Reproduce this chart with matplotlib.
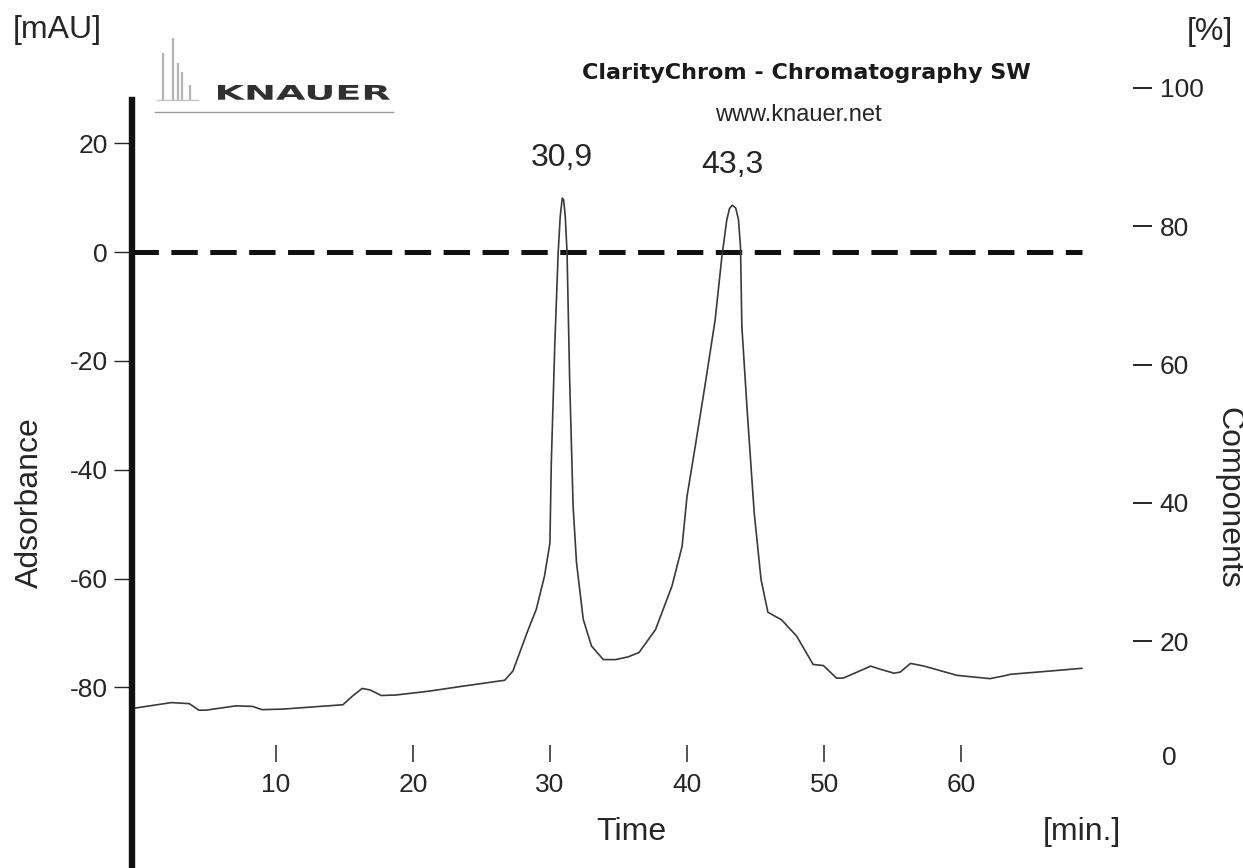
import matplotlib
matplotlib.use("Agg")
import matplotlib.pyplot as plt
from matplotlib.font_manager import FontProperties
from matplotlib.patches import PathPatch
from matplotlib.textpath import TextPath
from matplotlib.transforms import Affine2D

plt.rcParams["font.family"] = ["Liberation Sans", "DejaVu Sans"]
plt.rcParams["axes.unicode_minus"] = False
plt.rcParams["lines.scale_dashes"] = False

W, H, DPI = 1243, 868, 100
INK = "#262626"

# detector trace, time in min / absorbance in mAU
time_min = [-0.5, 2.4, 3.7, 4.4, 4.9, 7.1, 8.3, 9.0, 10.5, 14.9, 15.6, 16.3, 16.9,
            17.7, 18.8, 21.2, 23.6, 26.7, 27.3, 27.8, 28.4, 29.0, 29.6, 30.0, 30.1,
            30.35, 30.6, 30.75, 30.9, 31.0, 31.12, 31.25, 31.44, 31.69, 31.94,
            32.43, 33.03, 33.89, 34.8, 35.7, 36.5, 37.7, 38.9, 39.64, 40.0, 40.6,
            41.3, 42.05, 42.54, 42.9, 43.1, 43.3, 43.55, 43.75, 43.9, 44.0, 44.4,
            44.9, 45.4, 45.9, 46.9, 48.0, 49.2, 49.95, 50.9, 51.4, 53.4, 54.0,
            55.1, 55.55, 56.3, 57.3, 59.7, 62.1, 63.1, 63.6, 66.5, 68.8]
absorbance = [-83.9, -82.8, -83.0, -84.2, -84.2, -83.4, -83.5, -84.1, -84.0, -83.2,
              -81.6, -80.2, -80.5, -81.5, -81.4, -80.7, -79.8, -78.7, -77.0, -73.6,
              -69.5, -65.7, -59.6, -53.5, -38.8, -17.4, -0.2, 6.5, 9.9, 9.6, 6.5,
              -0.2, -23.5, -46.7, -57.1, -67.5, -72.4, -74.9, -74.9, -74.4, -73.6,
              -69.4, -61.4, -54.1, -44.9, -35.7, -24.7, -12.5, -0.9, 5.9, 8.0, 8.6,
              8.1, 6.0, 1.0, -13.7, -29.6, -47.9, -60.2, -66.2, -67.6, -70.6, -75.8,
              -76.0, -78.3, -78.3, -76.1, -76.6, -77.4, -77.2, -75.6, -76.1, -77.8,
              -78.4, -77.9, -77.6, -77.0, -76.5]

peak_times = [30.9, 43.3]
peak_heights = [9.9, 8.6]
peak_labels = ["30,9", "43,3"]

x_ticks = [10, 20, 30, 40, 50, 60]
left_ticks = [20, 0, -20, -40, -60, -80]
right_ticks = [20, 40, 60, 80, 100]

# little chromatogram in the KNAUER logo (x, top, in pixels)
logo_spike_x = [163, 173, 178, 182, 190]
logo_spike_top = [53, 38, 63, 72, 85]


def px_box(left, top, right, bottom):
    return [left / W, 1 - bottom / H, (right - left) / W, (bottom - top) / H]


fig = plt.figure(figsize=(W / DPI, H / DPI), dpi=DPI)
fig.patch.set_facecolor("white")

ax = fig.add_axes(px_box(131.5, 60, 1133, 868))
ax.patch.set_visible(False)
ax.set_xlim(-0.52, 72.53)
ax.set_ylim(-113.2, 35.29)

ax.plot([time_min[0], time_min[-1]], [0, 0], color="#111111", lw=3.6,
        dashes=(19, 9), solid_capstyle="butt", dash_capstyle="butt")
ax.plot(time_min, absorbance, color="#3a3a3a", lw=1.2)

for t, v, lab in zip(peak_times, peak_heights, peak_labels):
    ax.annotate(lab, xy=(t, v), xytext=(0, 40), textcoords="offset pixels",
                ha="center", va="center", fontsize=23, color=INK)

for side in ["top", "right"]:
    ax.spines[side].set_visible(False)
ax.spines["left"].set_linewidth(4.6)
ax.spines["left"].set_color("#111111")
ax.spines["left"].set_bounds(-113.2, 27.94)
ax.spines["bottom"].set_position(("data", -93.75))
ax.spines["bottom"].set_visible(False)

ax.set_xticks(x_ticks)
ax.set_yticks(left_ticks)
ax.tick_params(axis="x", direction="in", length=12, width=1.1, pad=8,
               labelsize=19, color=INK, labelcolor=INK)
ax.tick_params(axis="y", direction="out", length=13, width=1.0, pad=4,
               labelsize=19, color=INK, labelcolor=INK)

ax2 = ax.twinx()
ax2.patch.set_visible(False)
ax2.set_ylim(-12.83, 104.05)
for s in ax2.spines.values():
    s.set_visible(False)
ax2.set_yticks(right_ticks)
ax2.tick_params(axis="y", direction="out", length=13.7, width=1.4, pad=5.5,
                labelsize=19, color=INK, labelcolor=INK)
ax2.annotate("0", xy=(1, 0), xycoords=("axes fraction", "data"), xytext=(29, 21),
             textcoords="offset pixels", ha="left", va="center", fontsize=19,
             color=INK)

# axis titles and units
fig.text(30 / W, 1 - 503 / H, "Adsorbance", rotation=90, ha="center", va="center",
         fontsize=23, color=INK)
fig.text(1228 / W, 1 - 498 / H, "Components", rotation=270, ha="center",
         va="center", fontsize=23, color=INK)
fig.text(631 / W, 1 - 832 / H, "Time", ha="center", va="center", fontsize=23,
         color=INK)
fig.text(1082 / W, 1 - 832 / H, "[min.]", ha="center", va="center", fontsize=23,
         color=INK)
fig.text(57 / W, 1 - 30 / H, "[mAU]", ha="center", va="center", fontsize=23,
         color=INK)
fig.text(1210 / W, 1 - 32 / H, "[%]", ha="center", va="center", fontsize=23,
         color=INK)

# header
fig.text(806 / W, 1 - 79 / H, "ClarityChrom - Chromatography SW", ha="center",
         va="baseline", fontsize=16, fontweight="bold", family="DejaVu Sans",
         color="#1a1a1a")
fig.text(798 / W, 1 - 121 / H, "www.knauer.net", ha="center", va="baseline",
         fontsize=17, color=INK)

# KNAUER logo: stretched bold lettering, grey rule, small peak icon
lax = fig.add_axes([0, 0, 1, 1], zorder=5)
lax.set_xlim(0, W)
lax.set_ylim(H, 0)
lax.axis("off")
lax.plot([155, 393], [112, 112], color="#9a9a9a", lw=1.0)
lax.vlines(logo_spike_x, logo_spike_top, 100, colors="#b4b4b4", lw=1.6)
lax.plot([157, 198], [100, 100], color="#c4c4c4", lw=1.0)

tp = TextPath((0, 0), "KNAUER", size=20,
              prop=FontProperties(family="DejaVu Sans", weight="bold"))
ext = tp.get_extents()
sx = (390 - 218) / ext.width
sy = (100 - 85) / ext.height
logo_tf = Affine2D().translate(-ext.x0, -ext.y0).scale(sx, sy).translate(218, H - 100)
fig.add_artist(PathPatch(tp, transform=logo_tf, facecolor="#303030", edgecolor="none"))

fig.savefig("out.png", dpi=DPI)
